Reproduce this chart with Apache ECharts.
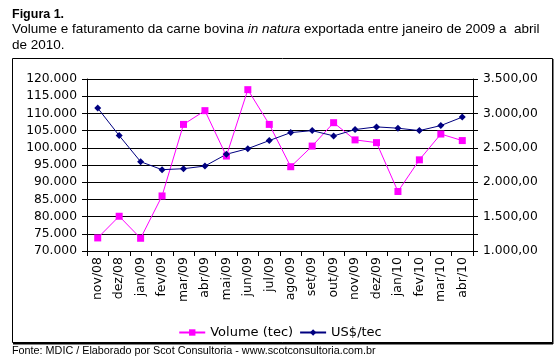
<!DOCTYPE html>
<html><head><meta charset="utf-8">
<script src="https://cdn.jsdelivr.net/npm/echarts@6/dist/echarts.min.js"></script>
<style>html,body{margin:0;padding:0;background:#fff}#c{width:560px;height:364px}</style>
</head><body><div id="c"></div>
<script>
const categories = ['nov/08','dez/08','jan/09','fev/09','mar/09','abr/09','mai/09','jun/09','jul/09','ago/09','set/09','out/09','nov/09','dez/09','jan/10','fev/10','mar/10','abr/10'];
const volume = [73800,80100,73700,86000,106800,110800,97600,116900,106800,94500,100500,107300,102300,101500,87300,96500,104000,102100];
const price = [3077,2678,2298,2182,2196,2235,2406,2488,2605,2721,2750,2673,2765,2804,2785,2750,2823,2946];
const leftTicks = [70000,75000,80000,85000,90000,95000,100000,105000,110000,115000,120000];
const rightTicks = [1000,1500,2000,2500,3000,3500];

const F = 'DejaVu Sans';
function fmtThousands(v){ return String(Math.round(v)).replace(/\B(?=(\d{3})+(?!\d))/g,'.'); }
const chart = echarts.init(document.getElementById('c'), null, {renderer:'canvas'});
chart.setOption({
  animation:false,
  backgroundColor:'#fff',
  textStyle:{fontFamily:F},
  graphic:[
    {type:'rect', shape:{x:12.5,y:58.5,width:540,height:284}, style:{fill:'none',stroke:'#000',lineWidth:1}},
    {type:'line', shape:{x1:13,y1:343.5,x2:553,y2:343.5}, style:{stroke:'#000',lineWidth:2}},
    {type:'line', shape:{x1:553,y1:59,x2:553,y2:344}, style:{stroke:'#000',lineWidth:1}},
    {type:'text', left:12, top:8, style:{text:'Figura 1.', font:'bold 12.5px "Liberation Sans"', fill:'#000'}},
    {type:'text', left:12, top:21, style:{
      text:'Volume e faturamento da carne bovina {i|in natura} exportada entre janeiro de 2009 a  abril\nde 2010.',
      font:'13.5px "Liberation Sans"', fill:'#000', lineHeight:16.5,
      rich:{i:{fontStyle:'italic', fontFamily:'Liberation Sans', fontSize:13.5}}}},
    {type:'text', left:12, top:346, style:{text:'Fonte: MDIC / Elaborado por Scot Consultoria - www.scotconsultoria.com.br', font:'10.8px "Liberation Sans"', fill:'#000'}}
  ],
  legend:{
    top:321, left:'center', itemWidth:26, itemHeight:8, itemGap:6,
    textStyle:{fontFamily:F, fontSize:13, color:'#000'},
    data:['Volume (tec)','US$/tec']
  },
  grid:{left:87, right:87, top:79, bottom:113},
  xAxis:{
    type:'category', data:categories, boundaryGap:true,
    axisLine:{lineStyle:{color:'#000'}},
    axisTick:{show:true, alignWithLabel:false, length:5, lineStyle:{color:'#000'}},
    axisLabel:{rotate:90, interval:0, fontFamily:F, fontSize:12.5, color:'#000', margin:6}
  },
  yAxis:[
    {type:'value', min:70000, max:120000, interval:5000, position:'left',
     axisLine:{show:true, lineStyle:{color:'#000'}},
     axisTick:{show:true, length:5, lineStyle:{color:'#000'}},
     splitLine:{show:true, lineStyle:{color:'#000', width:1}},
     axisLabel:{fontFamily:F, fontSize:12.3, color:'#000', margin:10, formatter:v=>fmtThousands(v)}},
    {type:'value', min:1000, max:3500, interval:250, position:'right',
     axisLine:{show:true, lineStyle:{color:'#000'}},
     axisTick:{show:true, length:5, lineStyle:{color:'#000'}},
     splitLine:{show:false},
     axisLabel:{fontFamily:F, fontSize:12.3, color:'#000', margin:10,
       formatter:v=> rightTicks.indexOf(v)>=0 ? fmtThousands(v)+',00' : ''}}
  ],
  series:[
    {name:'Volume (tec)', type:'line', yAxisIndex:0, data:volume,
     symbol:'rect', symbolSize:7, color:'#FF00FF',
     lineStyle:{color:'#FF00FF', width:1}, itemStyle:{color:'#FF00FF'}},
    {name:'US$/tec', type:'line', yAxisIndex:1, data:price,
     symbol:'diamond', symbolSize:7, color:'#000080',
     lineStyle:{color:'#000080', width:1}, itemStyle:{color:'#000080'}}
  ]
});
</script></body></html>
